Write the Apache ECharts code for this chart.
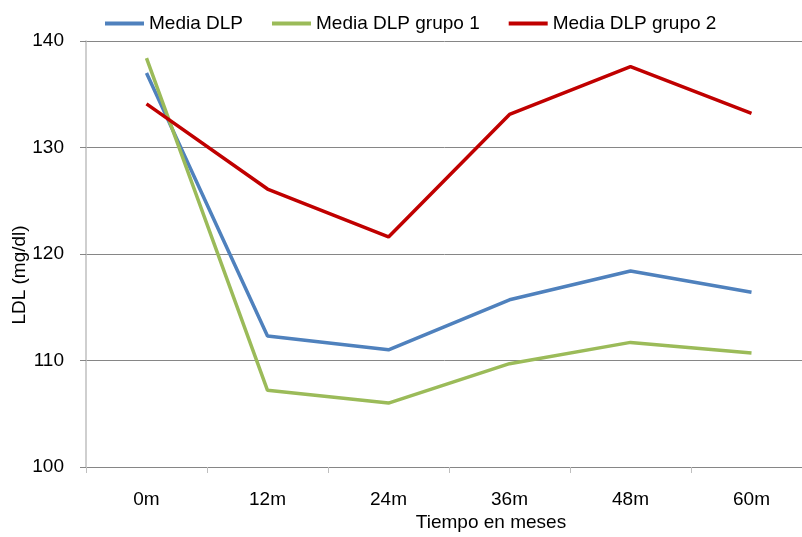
<!DOCTYPE html>
<html>
<head>
<meta charset="utf-8">
<script src="https://cdn.jsdelivr.net/npm/echarts@6/dist/echarts.min.js"></script>
<style>
  html, body { margin: 0; padding: 0; background: #fff; }
  #chart { width: 802px; height: 537px; }
</style>
</head>
<body>
<div id="chart"></div>
<script>
// LDL cholesterol over follow-up time (months)
const categories = ['0m', '12m', '24m', '36m', '48m', '60m'];
const mediaDLP = [137.0, 112.3, 111.0, 115.7, 118.4, 116.4];
const mediaGrupo1 = [138.4, 107.2, 106.0, 109.7, 111.7, 110.7];
const mediaGrupo2 = [134.1, 126.1, 121.6, 133.1, 137.6, 133.2];
const seriesNames = ['Media DLP', 'Media DLP grupo 1', 'Media DLP grupo 2'];
const yTicks = [100, 110, 120, 130, 140];

const FONT = '"Liberation Sans", Arial, sans-serif';
const FS = 19;
const colors = ['#4F81BD', '#9BBB59', '#C00000'];

const chart = echarts.init(document.getElementById('chart'), null, { renderer: 'canvas' });

const makeLine = (name, data, color) => ({
  name,
  type: 'line',
  data,
  symbol: 'none',
  showSymbol: false,
  lineStyle: { width: 3.5, color },
  itemStyle: { color },
  z: 3
});

chart.setOption({
  animation: false,
  backgroundColor: '#ffffff',
  color: colors,
  textStyle: { fontFamily: FONT },
  legend: {
    top: 9,
    left: 100,
    icon: 'rect',
    itemWidth: 39,
    itemHeight: 4,
    itemGap: 29,
    textStyle: { fontFamily: FONT, fontSize: FS, color: '#000' },
    data: seriesNames
  },
  grid: {
    left: 86,
    top: 41,
    right: -10,
    bottom: 70,
    containLabel: false,
    outerBoundsMode: 'none'
  },
  xAxis: {
    type: 'category',
    data: categories,
    boundaryGap: true,
    axisLine: { lineStyle: { color: '#868686', width: 1 } },
    axisTick: { show: true, length: 6, lineStyle: { color: '#BFBFBF' } },
    axisLabel: { fontFamily: FONT, fontSize: FS, color: '#000', margin: 23 }
  },
  yAxis: {
    type: 'value',
    min: yTicks[0],
    max: yTicks[yTicks.length - 1],
    interval: 10,
    axisLine: { show: true, lineStyle: { color: '#BFBFBF', width: 1.5 } },
    axisTick: { show: true, length: 6, lineStyle: { color: '#868686' } },
    axisLabel: { fontFamily: FONT, fontSize: FS, color: '#000', margin: 22 },
    splitLine: { show: true, lineStyle: { color: '#868686', width: 1 } }
  },
  graphic: [
    {
      type: 'text',
      x: 20,
      y: 275,
      rotation: Math.PI / 2,
      style: {
        text: 'LDL (mg/dl)',
        font: FS + 'px ' + FONT,
        fill: '#000',
        align: 'center',
        verticalAlign: 'middle'
      }
    },
    {
      type: 'text',
      x: 491,
      y: 523,
      style: {
        text: 'Tiempo en meses',
        font: FS + 'px ' + FONT,
        fill: '#000',
        align: 'center',
        verticalAlign: 'middle'
      }
    }
  ],
  series: [
    makeLine(seriesNames[0], mediaDLP, colors[0]),
    makeLine(seriesNames[1], mediaGrupo1, colors[1]),
    makeLine(seriesNames[2], mediaGrupo2, colors[2])
  ]
});
</script>
</body>
</html>
